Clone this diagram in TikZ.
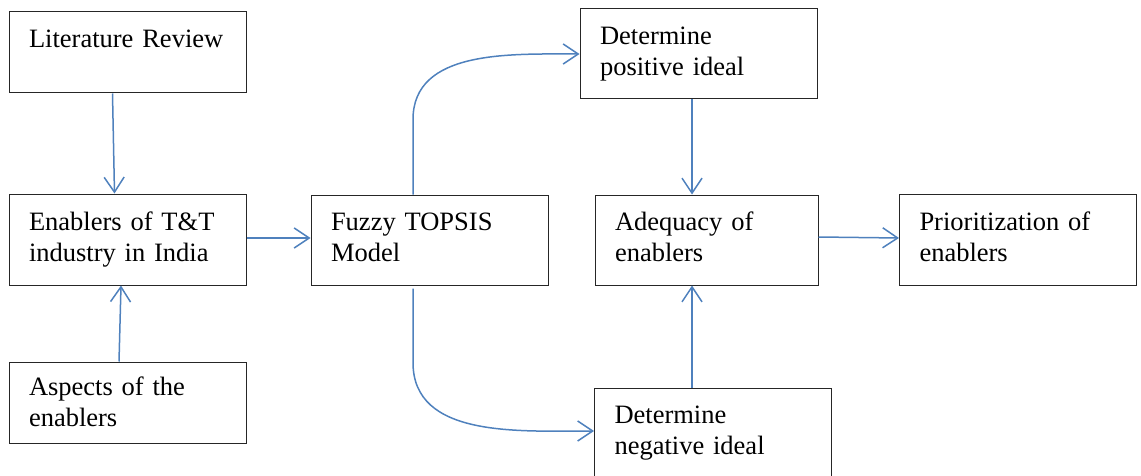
\documentclass[tikz,border=0pt]{standalone}
\usepackage{fontspec}
\setmainfont{Liberation Serif}
\usetikzlibrary{arrows.meta}
\definecolor{arrowblue}{RGB}{79,129,189}

\begin{document}
\begin{tikzpicture}[x=1pt, y=1pt,
	box/.style={draw=black!85, line width=1pt, rectangle, minimum width=237pt, minimum height=90pt,
		text width=197pt, align=left, inner xsep=20pt, inner ysep=0pt,
		text height=18pt, text depth=37pt, font=\fontsize{26.5pt}{31pt}\selectfont},
	arr/.style={draw=arrowblue, line width=1.5pt, -{Straight Barb[length=15pt, width=20pt, line width=1.5pt]}}]
\useasboundingbox (0,0) rectangle (1141,475);
\node[box, minimum height=81pt, text depth=27pt] (lit) at (127.5,422.5) {Literature Review};
\node[box, minimum height=91pt] (enab) at (127.5,235.5) {Enablers of T\&T\\industry in India};
\node[box, minimum height=81pt, text depth=32pt] (asp) at (127.5,72.5) {Aspects of the\\enablers};
\node[box] (fuz) at (429.5,235) {Fuzzy TOPSIS\\Model};
\node[box] (pos) at (698.5,421) {Determine\\positive ideal};
\node[box, minimum width=223pt, text width=183pt] (adq) at (706.5,235) {Adequacy of\\enablers};
\node[box, minimum height=91pt] (pri) at (1018,235.5) {Prioritization of\\enablers};
\node[box] (neg) at (713,42) {Determine\\negative ideal};

\draw[arr] ([xshift=-15pt]lit.south) -- ([xshift=-13pt]enab.north);
\draw[arr] ([xshift=-8.5pt]asp.north) -- ([xshift=-6.5pt]enab.south);
\draw[arr] ([yshift=1.5pt]enab.east) -- ([yshift=2pt]fuz.west);
\draw[arr] ([xshift=-16.5pt]fuz.north) -- ++(0,75) to[out=90, in=180] (pos.west);
\draw[arr] ([xshift=-16.5pt, yshift=-3pt]fuz.south) -- ++(0,-74) to[out=-90, in=180] ([yshift=2pt]neg.west);
\draw[arr] ([xshift=-6.5pt]pos.south) -- ([xshift=-14.5pt]adq.north);
\draw[arr] ([xshift=-21pt]neg.north) -- ([xshift=-14.5pt]adq.south);
\draw[arr] ([yshift=3pt]adq.east) -- ([yshift=1.5pt]pri.west);
\end{tikzpicture}
\end{document}
